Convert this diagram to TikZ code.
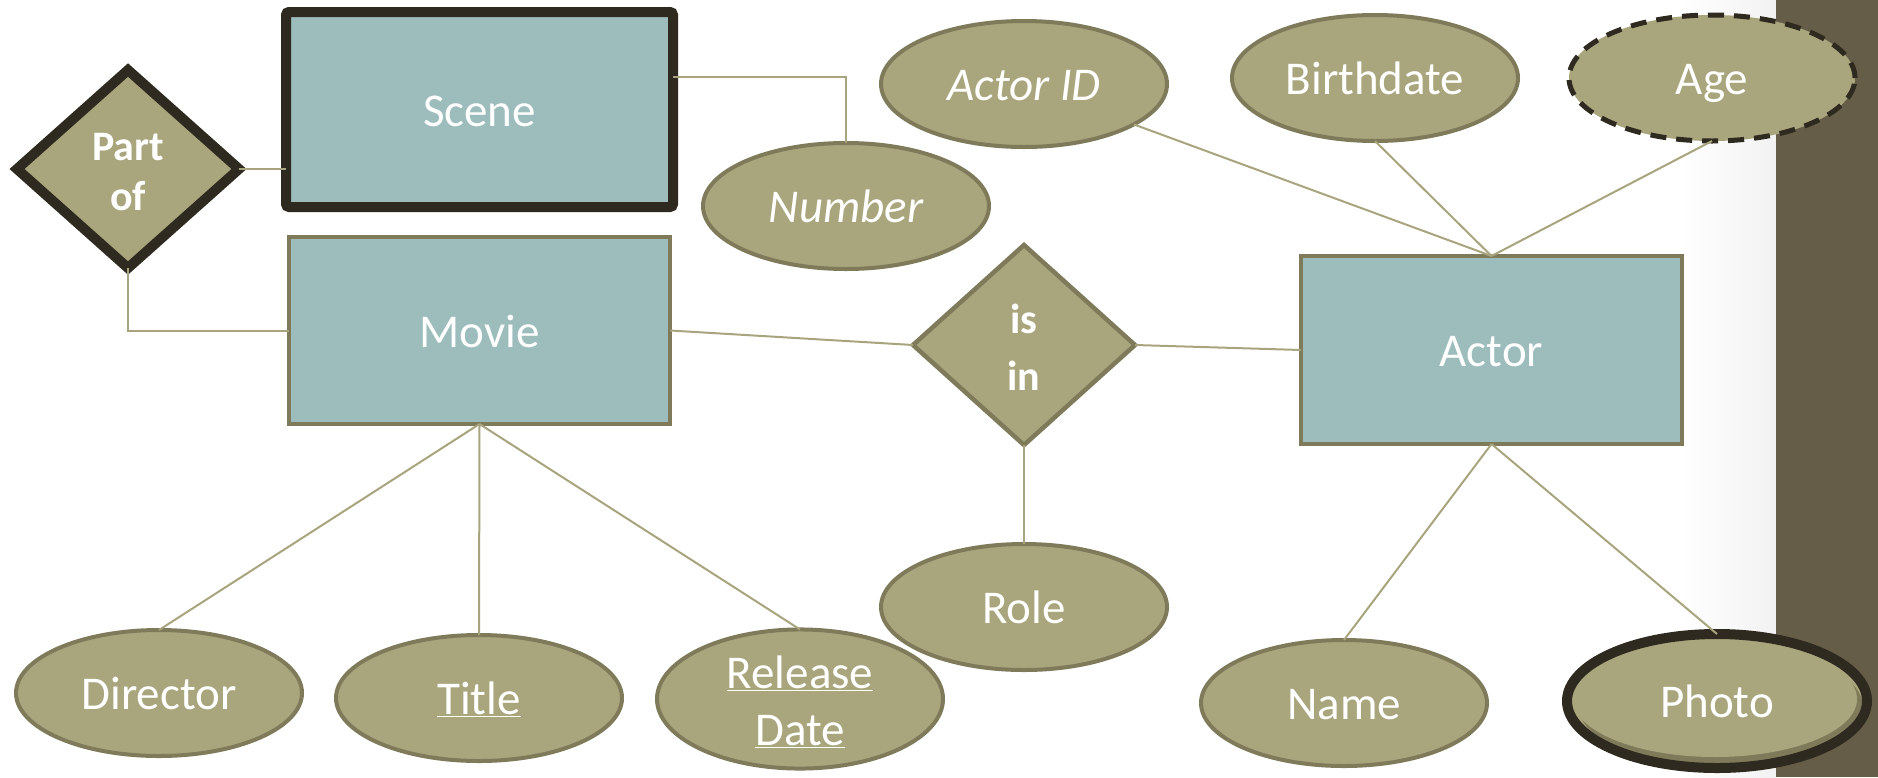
\documentclass[tikz,border=0pt]{standalone}
\usepackage{fontspec}
\setmainfont{Carlito}
\usetikzlibrary{shapes.geometric}
\definecolor{entfill}{HTML}{9DBDBC}
\definecolor{attrfill}{HTML}{A9A57C}
\definecolor{attrline}{HTML}{7F7B5A}
\definecolor{darkline}{HTML}{2F2A20}
\definecolor{linkcol}{HTML}{A8A47E}
\definecolor{bandcol}{HTML}{665D48}
% invisible strut that sets the height of a first text line
\newcommand{\firstline}[1]{\rule{0pt}{#1}}

\begin{document}
\begin{tikzpicture}[x=1pt,y=-1pt,
  every node/.style={inner sep=0pt, outer sep=0pt, text=white, align=center,
    font=\fontsize{47}{57}\selectfont},
  oneline/.style={text height=45pt, text depth=11.5pt},
  entity/.style={rectangle, oneline, fill=entfill, draw=attrline, line width=4.5pt,
    minimum width=381pt, minimum height=188pt},
  weakentity/.style={entity, draw=darkline, line width=10pt, rounded corners=3pt,
    minimum width=387pt, minimum height=195pt},
  attr/.style={ellipse, fill=attrfill, draw=attrline, line width=4pt,
    minimum width=286pt, minimum height=126pt},
  rel/.style={diamond, fill=attrfill, draw=attrline, line width=4.5pt,
    minimum width=222pt, minimum height=200pt,
    font=\fontsize{42}{57}\bfseries\selectfont},
  link/.style={draw=linkcol, line width=2pt}]

\useasboundingbox (0,0) rectangle (1878,777);

% side band with its soft shadow
\shade[left color=white, right color=black!5] (1680,0) rectangle (1776,777);
\fill[bandcol] (1776,0) rectangle (1878,777);

% entities and relationships
\node[rel, draw=darkline, line width=10pt, minimum height=198pt,
  font=\fontsize{42}{50}\bfseries\selectfont] (partof) at (128,169) {\firstline{34pt}Part\\of};
\node[weakentity] (scene) at (479.5,109.5) {Scene};
\node[entity, minimum height=187pt] (movie) at (479.5,330.5) {Movie};
\node[entity] (actor) at (1491.5,350) {Actor};
\node[rel] (isin) at (1024,345) {\firstline{34pt}is\\in};

% attributes
\node[attr, oneline] (number) at (846,206) {\itshape Number};
\node[attr, oneline] (actorid) at (1024,84) {\itshape Actor ID};
\node[attr, oneline] (birth) at (1375,78) {Birthdate};
\node[attr, oneline, draw=darkline, line width=5pt, dash pattern=on 16pt off 10pt] (age) at (1712,78) {Age};
\node[attr, oneline] (role) at (1024,607) {Role};
\node[attr, oneline] (director) at (159,693) {Director};
\node[attr, oneline] (title) at (479,698) {\underline{Title}};
\node[attr] (rdate) at (800,699) {\firstline{39pt}\underline{Release}\\\underline{Date}};
\node[attr, oneline] (name) at (1344,703) {Name};
\node[attr, oneline, draw=darkline, line width=10pt, minimum width=300pt, minimum height=134pt,
  path picture={
    \fill[attrline] ([shift={(4pt,-6pt)}]path picture bounding box.center)
      ellipse [x radius=142, y radius=60];
    \fill[attrfill] ([shift={(-2pt,2pt)}]path picture bounding box.center)
      ellipse [x radius=142, y radius=58];
  }] (photo) at (1717,701) {Photo};

% connectors
\draw[link] (partof.east) -- (scene.west |- partof.east);
\draw[link] ([yshift=32.5pt]scene.east) -| (number.north);
\draw[link] (partof.south) |- (movie.west);
\draw[link] (movie.east) -- (isin.west);
\draw[link] (isin.east) -- (actor.west);
\draw[link] (isin.south) -- (role.north);
\draw[link] (movie.south) -- (director.north);
\draw[link] (movie.south) -- (title.north);
\draw[link] (movie.south) -- (rdate.north);
\draw[link] (actor.north) -- (actorid);
\draw[link] (actor.north) -- (birth.south);
\draw[link] (actor.north) -- (age.south);
\draw[link] (actor.south) -- (name.north);
\draw[link] (actor.south) -- (photo.north);
\end{tikzpicture}
\end{document}
